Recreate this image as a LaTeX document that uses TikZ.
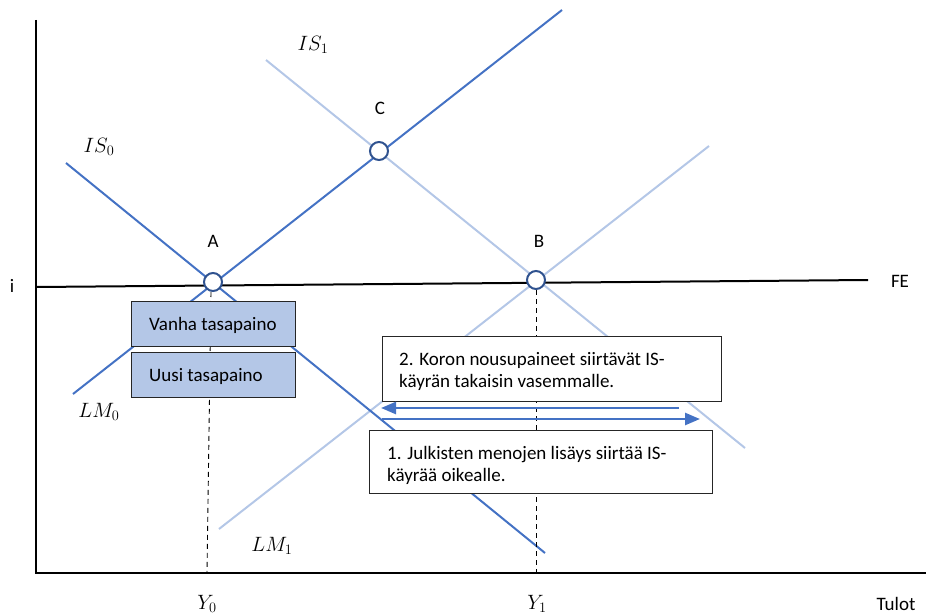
\documentclass[tikz,border=0pt]{standalone}
\usepackage{fontspec}
\setmainfont{Carlito}
\usetikzlibrary{arrows.meta}
\definecolor{dblue}{HTML}{4472C4}
\definecolor{lblue}{HTML}{B4C7E7}
\definecolor{cblue}{HTML}{2F528F}
\definecolor{boxfill}{HTML}{B4C7E7}
\begin{document}
\begin{tikzpicture}[x=1pt,y=-1pt,
  darkcurve/.style={draw=dblue,line width=2pt},
  lightcurve/.style={draw=lblue,line width=2pt},
  axis/.style={draw=black,line width=1.5pt},
  guide/.style={draw=black,line width=0.9pt,dash pattern=on 5pt off 4pt},
  eqpoint/.style={circle,draw=cblue,fill=white,line width=2pt,minimum size=18pt,inner sep=0pt},
  bluebox/.style={draw=black!85,fill=boxfill,line width=1pt,minimum width=164pt,minimum height=45pt,inner sep=0pt},
  whitebox/.style={draw=black!85,fill=white,line width=1pt,inner sep=0pt},
  txt/.style={font=\fontsize{19}{22}\selectfont,inner sep=0pt},
  mlabel/.style={font=\fontsize{20}{22}\selectfont,inner sep=0pt},
  shiftarrow/.style={draw=dblue,line width=2.5pt,-{Triangle[length=15pt,width=12pt]}}]
\useasboundingbox (0,0) rectangle (928,615);

% axes
\coordinate (ytop) at (36,20);
\coordinate (orig) at (36,573);
\coordinate (xend) at (926,573);
\draw[axis] (ytop) -- (orig) -- (xend);

% curves
\coordinate (is0a) at (66,163);  \coordinate (is0b) at (545,553);
\coordinate (lm0a) at (73,394);  \coordinate (lm0b) at (562,10);
\coordinate (is1a) at (266,60);  \coordinate (is1b) at (745,448);
\coordinate (lm1a) at (219,529); \coordinate (lm1b) at (709,146);
\coordinate (fea) at (36,287);   \coordinate (feb) at (868,280);
\draw[lightcurve] (is1a) -- (is1b);
\draw[lightcurve] (lm1a) -- (lm1b);
\draw[darkcurve] (is0a) -- (is0b);
\draw[darkcurve] (lm0a) -- (lm0b);
\draw[draw=black,line width=2pt] (fea) -- (feb);

% guide lines
\coordinate (y0foot) at (207,573);
\coordinate (y1foot) at (536,573);
\coordinate (atop) at (211,292);
\coordinate (btop) at (536,290);
\draw[guide] (atop) -- (y0foot);
\draw[guide] (btop) -- (y1foot);

% boxes
\node[bluebox,anchor=north west] (vanha) at (131,301) {};
\node[txt,anchor=west] (vanhat) at ([xshift=18pt,yshift=-1pt]vanha.west) {Vanha tasapaino};
\node[bluebox,anchor=north west] (uusi) at (131,352) {};
\node[txt,anchor=west] (uusit) at ([xshift=18pt,yshift=-1pt]uusi.west) {Uusi tasapaino};

\node[whitebox,anchor=north west,minimum width=339pt,minimum height=65pt] (box2) at (382,336) {};
\node[txt,anchor=west,align=left] (box2t) at ([xshift=17pt,yshift=-2pt]box2.west)
  {2. Koron nousupaineet siirtävät IS-\\käyrän takaisin vasemmalle.};
\node[whitebox,anchor=north west,minimum width=343pt,minimum height=63pt] (box1) at (369,430) {};
\node[txt,anchor=west,align=left] (box1t) at ([xshift=18pt,yshift=-3pt]box1.west)
  {1. Julkisten menojen lisäys siirtää IS-\\käyrää oikealle.};

% arrows
\coordinate (l2s) at (679,408); \coordinate (l2e) at (381,408);
\coordinate (r1s) at (382,419); \coordinate (r1e) at (700,419);
\draw[shiftarrow] (l2s) -- (l2e);
\draw[shiftarrow] (r1s) -- (r1e);

% equilibrium points
\node[eqpoint] (A) at (213,282) {};
\node[eqpoint] (B) at (536,280) {};
\node[eqpoint] (C) at (379,151) {};

% labels
\node[txt] (Alab) at (213,241) {A};
\node[txt] (Blab) at (539,241) {B};
\node[txt] (Clab) at (380,108) {C};
\node[txt] (FElab) at (900,281) {FE};
\node[txt] (ilab) at (12,286) {i};
\node[txt] (tulot) at (896,604) {Tulot};
\node[mlabel] (IS0) at (99,147) {$IS_0$};
\node[mlabel] (IS1) at (313,45) {$IS_1$};
\node[mlabel] (LM0) at (99,412) {$LM_0$};
\node[mlabel] (LM1) at (272,546) {$LM_1$};
\node[mlabel] (Y0) at (207,604) {$Y_0$};
\node[mlabel] (Y1) at (537,604) {$Y_1$};
\end{tikzpicture}
\end{document}
